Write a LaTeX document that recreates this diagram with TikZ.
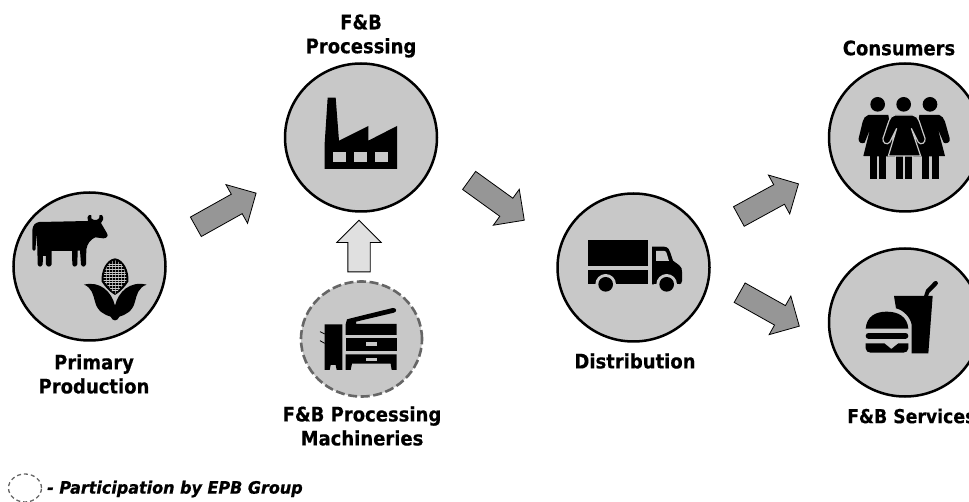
\documentclass[tikz,border=0pt]{standalone}
\usepackage{fontspec}
\setmainfont{DejaVu Sans}[FakeStretch=0.9,BoldFeatures={FakeBold=0.3}]
\newfontfamily\legendfont{DejaVu Sans}[FakeStretch=0.94,BoldItalicFeatures={FakeBold=0.8}]
\usetikzlibrary{shapes.geometric,shapes.arrows}
\definecolor{disc}{HTML}{C8C8C8}
\definecolor{flow}{HTML}{969696}
\definecolor{lightflow}{HTML}{E0E0E0}
\definecolor{dashgray}{HTML}{666666}
\tikzset{
  stage/.style={ellipse,draw=black,line width=2.5pt,fill=disc,inner sep=0pt,minimum width=152pt},
  dashstage/.style={ellipse,draw=dashgray,line width=2.6pt,dash pattern=on 9pt off 3.6pt,fill=disc,inner sep=0pt},
  blockarrow/.style={single arrow,draw=black,line width=.8pt,fill=flow,inner sep=0pt,anchor=tail,
    text height=21.5pt,text depth=0pt,text width=0pt,
    minimum height=#1,single arrow head extend=11pt,single arrow tip angle=90},
  lab/.style={align=center,font=\fontsize{20}{24}\selectfont\bfseries,inner sep=0pt},
  zoomgrid/.style={x=.33333pt,y=-.33333pt},
  ink/.style={fill=black,draw=none},
  gap/.style={fill=disc,draw=none}
}
\begin{document}
\begin{tikzpicture}[x=1pt,y=-1pt]
\useasboundingbox (0,0) rectangle (969,502);
\clip (0,0) rectangle (969,502);
% discs
\node[stage,minimum height=148pt] (primary) at (89.5,266.5) {};
\node[stage,minimum height=148pt] (processing) at (361,137.5) {};
\node[stage,minimum height=148pt] (distribution) at (633.5,267.5) {};
\node[stage,minimum height=148pt] (consumers) at (905,137.5) {};
\node[stage,minimum height=148pt] (services) at (905,322.5) {};
\node[dashstage,minimum width=121pt,minimum height=115pt] (machines) at (361.5,339) {};
\node[ellipse,draw=dashgray,line width=1.3pt,dash pattern=on 4pt off 3pt,inner sep=0pt,minimum width=33pt,minimum height=28pt] (legendmark) at (25,488) {};
% labels
\node[lab] (lprocessing) at (361,36) {F\&B\\Processing};
\node[lab] (lprimary) at (94,374) {Primary\\Production};
\node[lab] (lmachines) at (362,426) {F\&B Processing\\Machineries};
\node[lab] (ldistribution) at (635,361) {Distribution};
\node[lab] (lconsumers) at (899,48) {Consumers};
\node[lab,anchor=west,font=\fontsize{19.2}{24}\selectfont\bfseries] (lservices) at (847,416) {F\&B Services};
\node[anchor=west,inner sep=0pt,font=\legendfont\fontsize{17}{20}\selectfont\bfseries\itshape] (legend) at (47,489) {- Participation by EPB Group};
% block arrows
\node[blockarrow=69pt,rotate=29.2] (a1) at (195.5,227) {};
\node[blockarrow=68pt,rotate=-35.8] (a2) at (468.8,180.2) {};
\node[blockarrow=68pt,rotate=28.7] (a3) at (738.5,216.7) {};
\node[blockarrow=68.4pt,rotate=-29.3] (a4) at (739.3,292.5) {};
\node[blockarrow=51.6pt,rotate=90,fill=lightflow] (a5) at (359,272.3) {};
% cow and corn
\begin{scope}[shift={(0,150)},zoomgrid]
\path[ink] (97,298) -- (97,240) .. controls (99,225) and (105,218) .. (118,216) -- (264,213)
  .. controls (261,205) and (262,198) .. (267,195) -- (274,196) .. controls (271,203) and (274,209) .. (282,210)
  .. controls (294,211) and (300,206) .. (298,196) -- (306,195) .. controls (312,204) and (310,214) .. (303,219)
  -- (321,250) .. controls (326,258) and (320,265) .. (310,265) -- (286,262)
  .. controls (272,268) and (262,280) .. (259,298) -- (258,343) .. controls (255,352) and (245,352) .. (243,343)
  -- (240,302) -- (233,302) -- (232,343) .. controls (229,352) and (219,352) .. (217,343) -- (216,303)
  -- (155,303) -- (155,343) .. controls (152,352) and (141,352) .. (138,343) -- (138,318) -- (129,318) -- (128,343)
  .. controls (125,352) and (115,352) .. (113,343) -- (112,290) -- (108,250) -- (107,298) .. controls (105,304) and (99,304) .. (97,298) -- cycle;
\path[ink] (345,325) .. controls (372,328) and (388,365) .. (385,395) .. controls (375,410) and (362,425) .. (345,435) .. controls (328,425) and (315,410) .. (305,395) .. controls (302,365) and (318,328) .. (345,325) -- cycle;
\begin{scope}
\clip (345,331) .. controls (366,334) and (381,365) .. (379,393) -- (345,432) -- (311,393) .. controls (309,365) and (324,334) .. (345,331) -- cycle;
\foreach \gx in {318,327,336,345,354,363,372} \draw[disc!70!black,line width=.7pt] (\gx,325) -- (\gx,435);
\foreach \gy in {342,350,358,366,374,382,390,398,406,414,422} \draw[disc,line width=.8pt] (300,\gy) -- (390,\gy);
\end{scope}
\path[ink] (252,404) .. controls (300,392) and (335,425) .. (345,467) .. controls (355,425) and (390,392) .. (440,404)
  .. controls (415,412) and (410,435) .. (405,455) .. controls (398,485) and (375,495) .. (358,500)
  .. controls (352,515) and (338,515) .. (332,500) .. controls (315,495) and (292,485) .. (285,455)
  .. controls (280,435) and (275,412) .. (252,404) -- cycle;
\end{scope}
% factory
\begin{scope}[shift={(270,30)},zoomgrid]
\path[ink] (173,203) -- (197,203) -- (207,332) -- (295,288) -- (295,332) -- (381,288) -- (381,417) -- (164,417) -- (164,340) -- cycle;
\foreach \wx in {189,252,316} \path[gap] (\wx,367) rectangle ++(39,30);
\end{scope}
% copier
\begin{scope}[shift={(280,200)},zoomgrid]
\path[ink] (134,373) -- (187,373) -- (187,510) -- (170,510) -- (167,495) -- (152,495) -- (149,510) -- (134,510) -- cycle;
\draw[black,line width=.8pt] (120,395) -- (134,402) (120,422) -- (134,430);
\path[ink] (197,373) -- (201,358) -- (228,351) -- (338,324) .. controls (350,323) and (352,335) .. (342,338) -- (228,365) -- (228,372) -- (350,372) -- (350,405) -- (197,405) -- cycle;
\path[ink] (197,415) rectangle (350,453);
\path[gap] (258,427) rectangle (292,437);
\path[ink] (197,463) -- (350,463) -- (350,510) -- (335,510) -- (332,491) -- (216,491) -- (212,510) -- (197,510) -- cycle;
\path[gap] (258,474) rectangle (292,484);
\end{scope}
% truck
\begin{scope}[shift={(540,170)},zoomgrid]
\path[ink] (145,210) rectangle (323,287);
\path[ink] (145,299) rectangle (323,343);
\path[ink] (336,230) -- (372,230) .. controls (385,231) and (389,240) .. (391,248) -- (399,272) -- (418,286) .. controls (425,292) and (426,297) .. (426,305) -- (426,333) .. controls (426,340) and (422,343) .. (416,343) -- (336,343) -- cycle;
\path[gap] (348,243) -- (373,243) .. controls (377,243) and (379,246) .. (380,250) -- (387,273) -- (348,273) -- cycle;
\path[gap] (197,343) circle[radius=31];
\path[gap] (380,343) circle[radius=31];
\path[gap] (160,343) rectangle (234,352);
\path[gap] (343,343) rectangle (417,352);
\path[ink] (197,343) circle[radius=22];
\path[ink] (380,343) circle[radius=22];
\end{scope}
% consumers
\begin{scope}[shift={(820,50)},zoomgrid]
\foreach \hx in {173,251,330} \path[ink] (\hx,163) circle[radius=22];
\foreach \lx in {150,178,228,255,307,335} \path[ink] (\lx,315) rectangle ++(21,71);
\path[ink] (145,195) -- (205,195) -- (225,320) -- (130,318) -- (150,238) -- (134,278) .. controls (126,283) and (113,277) .. (116,265) -- (128,215) .. controls (130,205) and (136,198) .. (145,195) -- cycle;
\path[ink] (298,195) -- (358,195) .. controls (365,198) and (373,205) .. (375,215) -- (389,265) .. controls (392,277) and (379,283) .. (371,278) -- (354,238) -- (375,318) -- (280,320) -- cycle;
\path[ink,draw=disc,line width=1.2pt] (225,195) -- (278,195) .. controls (288,197) and (294,203) .. (297,212) -- (315,265) .. controls (318,278) and (303,287) .. (295,277) -- (274,235) -- (302,318) -- (205,318) -- (230,235) -- (209,277) .. controls (201,287) and (186,278) .. (189,265) -- (207,212) .. controls (210,203) and (216,197) .. (225,195) -- cycle;
\end{scope}
% food
\begin{scope}[shift={(820,240)},zoomgrid]
\path[ink] (222,168) -- (312,168) -- (318,150) -- (343,124) .. controls (352,120) and (358,130) .. (350,136) -- (328,158) -- (324,168) -- (338,168) -- (325,340) -- (275,340) -- (275,255) .. controls (272,232) and (250,210) .. (228,205) -- cycle;
\path[ink] (137,266) .. controls (140,230) and (165,215) .. (200,215) .. controls (235,215) and (262,230) .. (265,266) -- cycle;
\draw[black,line width=6pt,line cap=round] (146,287) -- (256,287);
\path[ink] (137,310) -- (193,310) -- (214,327) -- (235,310) -- (265,310) -- (265,325) .. controls (265,333) and (258,338) .. (250,338) -- (152,338) .. controls (144,338) and (137,333) .. (137,325) -- cycle;
\end{scope}
\end{tikzpicture}
\end{document}
